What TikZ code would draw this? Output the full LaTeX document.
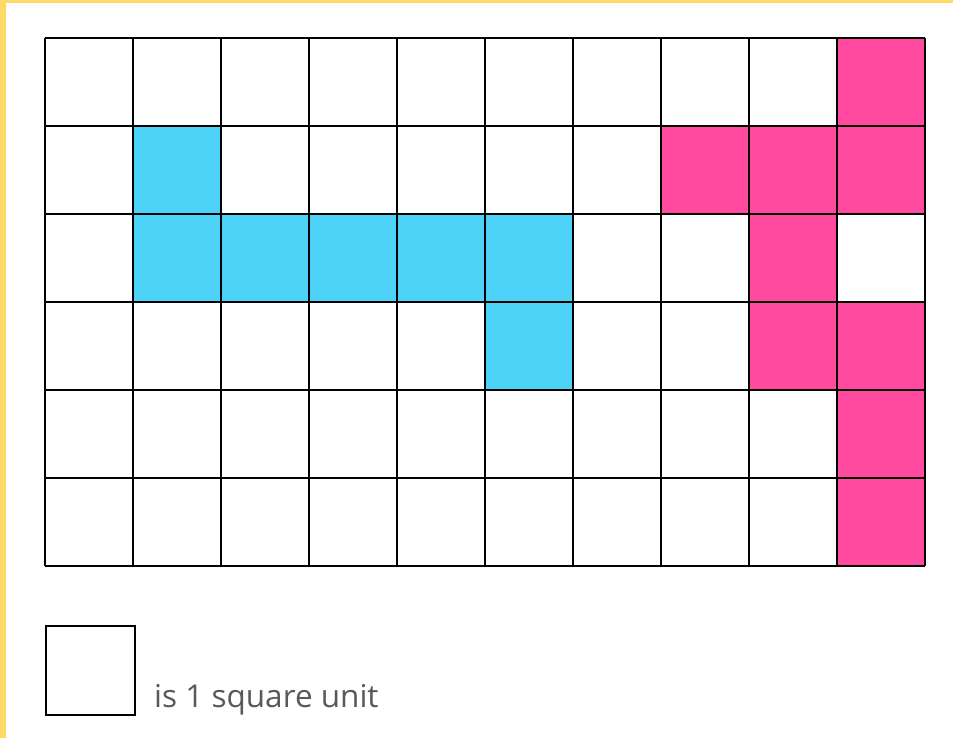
\documentclass[tikz,border=0pt]{standalone}
\usepackage{fontspec}
\setmainfont{Open Sans}
\definecolor{cellblue}{HTML}{4DD2F8}
\definecolor{cellpink}{HTML}{FF4AA0}
\definecolor{frameyellow}{HTML}{FFD966}
\definecolor{labelgray}{HTML}{595959}
\tikzset{
  gridline/.style={black, line width=1.3pt},
}
\begin{document}
\begin{tikzpicture}[x=1pt,y=-1pt]
      \useasboundingbox (0,0) rectangle (953,738);
      \fill[white] (0,0) rectangle (953,738);
      \fill[frameyellow] (0,0) rectangle (953,3);
      \fill[frameyellow] (0,0) rectangle (6,738);
      % blue cells
      \foreach \c/\r in {1/1,1/2,2/2,3/2,4/2,5/2,5/3} {
        \fill[cellblue] (45+88*\c,38+88*\r) rectangle ++(88,88);
      }
      % pink cells
      \foreach \c/\r in {9/0,7/1,8/1,9/1,8/2,8/3,9/3,9/4,9/5} {
        \fill[cellpink] (45+88*\c,38+88*\r) rectangle ++(88,88);
      }
      \foreach \c in {0,...,10} {
        \draw[gridline] (45+88*\c,38) -- (45+88*\c,566);
      }
      \foreach \r in {0,...,6} {
        \draw[gridline] (45,38+88*\r) -- (925,38+88*\r);
      }
      \node[draw, gridline, minimum size=89pt, inner sep=0pt] (unitsq) at (90.5,670.5) {};
      \node[anchor=base west, inner sep=0pt, text=labelgray, font=\fontsize{31.5}{36}\selectfont] (unitlabel) at (154,707) {is 1 square unit};
    \end{tikzpicture}
\end{document}
